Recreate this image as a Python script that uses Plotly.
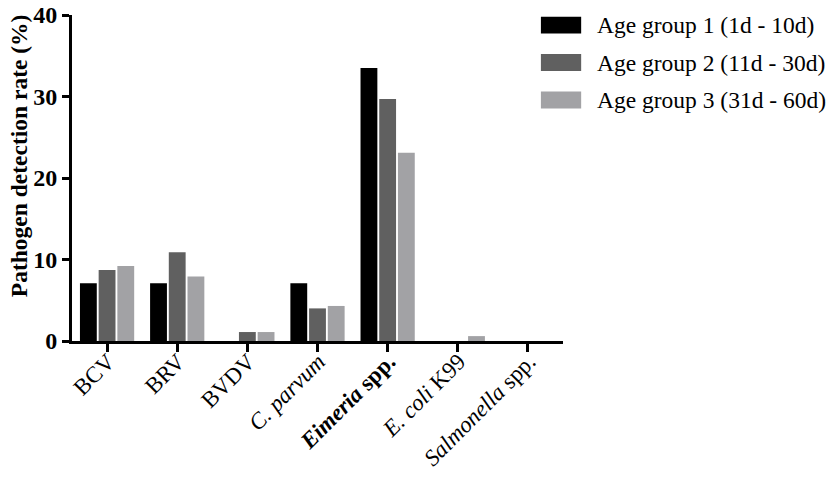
import plotly.graph_objects as go

categories = ["BCV", "BRV", "BVDV", "C. parvum", "Eimeria spp.", "E. coli K99", "Salmonella spp."]
tick_labels = ["BCV", "BRV", "BVDV", "<i>C. parvum</i>", "<b><i>Eimeria</i> spp.</b>",
               "<i>E. coli</i> K99", "<i>Salmonella</i> spp."]
series_names = ["Age group 1 (1d - 10d)", "Age group 2 (11d - 30d)", "Age group 3 (31d - 60d)"]
group1 = [7.1, 7.1, 0.0, 7.1, 33.5, 0.0, 0.0]
group2 = [8.7, 10.9, 1.1, 4.0, 29.7, 0.0, 0.0]
group3 = [9.2, 7.9, 1.1, 4.3, 23.1, 0.6, 0.0]
series_values = [group1, group2, group3]
colors = ["#000000", "#606060", "#a2a2a5"]
y_ticks = [0, 10, 20, 30, 40]
y_title = "Pathogen detection rate (%)"

FONT = "Liberation Serif"

fig = go.Figure()
for name, vals, col in zip(series_names, series_values, colors):
    fig.add_trace(go.Bar(x=categories, y=vals, name=name, marker_color=col,
                         marker_line_width=0, showlegend=False))

# custom legend (wide rectangular keys)
shapes = []
annotations = []
for i, (name, col) in enumerate(zip(series_names, colors)):
    yc = 0.969 - i * 0.115
    shapes.append(dict(type="rect", xref="paper", yref="paper",
                       x0=0.955, x1=1.037, y0=yc - 0.026, y1=yc + 0.026,
                       fillcolor=col, line=dict(width=0)))
    annotations.append(dict(xref="paper", yref="paper", x=1.066, y=yc,
                            text=name, showarrow=False, xanchor="left", yanchor="middle",
                            font=dict(family=FONT, size=23.5, color="#000000")))

# y-axis title
annotations.append(dict(xref="paper", yref="paper", x=-0.108, y=0.57,
                        text="<b>" + y_title + "</b>", textangle=-90, showarrow=False,
                        xanchor="center", yanchor="middle",
                        font=dict(family=FONT, size=23.5, color="#000000")))

fig.update_layout(
    width=827, height=477,
    margin=dict(l=72, r=264, t=15, b=136, autoexpand=False),
    paper_bgcolor="white", plot_bgcolor="white",
    barmode="group", bargap=0.2, bargroupgap=0.1,
    shapes=shapes, annotations=annotations,
    font=dict(family=FONT, color="#000000"),
)
fig.update_xaxes(
    type="category", range=[-0.5, 6.5], automargin=False,
    tickmode="array", tickvals=categories, ticktext=tick_labels, tickangle=-45,
    tickfont=dict(family=FONT, size=23, color="#000000"),
    ticklabelstandoff=-13, ticklabelshift=1,
    showline=True, linecolor="#000000", linewidth=3,
    ticks="outside", ticklen=8, tickwidth=3, tickcolor="#000000",
    showgrid=False, zeroline=False,
)
fig.update_yaxes(
    range=[0, 40], tickmode="array", tickvals=y_ticks, automargin=False,
    tickfont=dict(family=FONT, size=24, color="#000000", weight="bold"),
    showline=True, linecolor="#000000", linewidth=3,
    ticks="outside", ticklen=7, tickwidth=3, tickcolor="#000000",
    showgrid=False, zeroline=False,
)

fig.write_html("out.html", config={"displayModeBar": False},
               post_script="document.body.style.margin='0';")
